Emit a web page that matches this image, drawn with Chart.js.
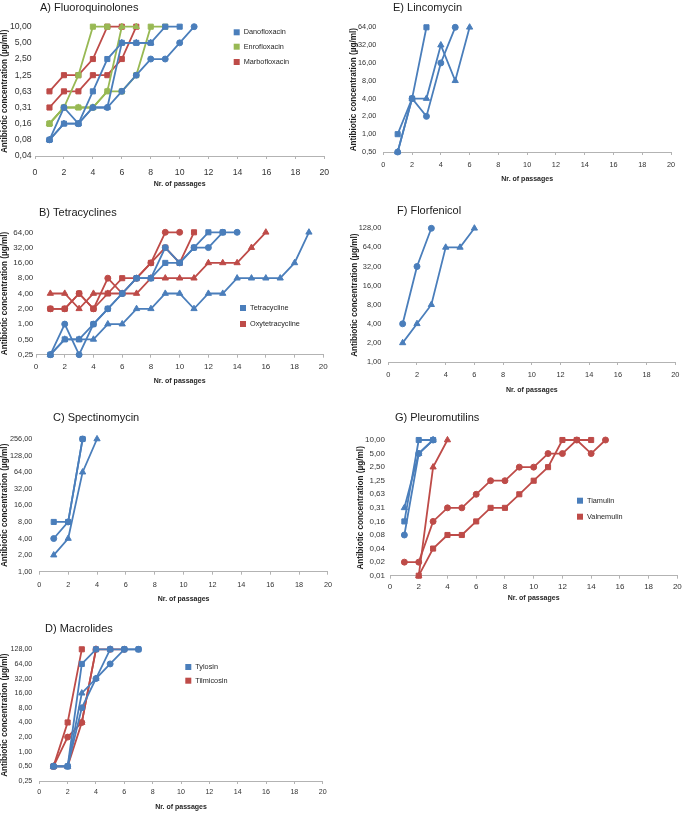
<!DOCTYPE html>
<html>
<head>
<meta charset="utf-8">
<script src="https://cdn.jsdelivr.net/npm/chart.js@4/dist/chart.umd.min.js"></script>
<style>
body { margin: 0; background: #fff; width: 685px; height: 813px; position: relative; overflow: hidden; }
canvas { position: absolute; }
</style>
</head>
<body>
<canvas id="chartA"></canvas>
<canvas id="chartB"></canvas>
<canvas id="chartC"></canvas>
<canvas id="chartD"></canvas>
<canvas id="chartE"></canvas>
<canvas id="chartF"></canvas>
<canvas id="chartG"></canvas>
<script>
// y levels (two-fold dilution steps) for each panel
const levelsA = [0.04, 0.08, 0.16, 0.31, 0.63, 1.25, 2.5, 5, 10];
const levelsB = [0.25, 0.5, 1, 2, 4, 8, 16, 32, 64];
const levelsC = [1, 2, 4, 8, 16, 32, 64, 128, 256];
const levelsD = [0.25, 0.5, 1, 2, 4, 8, 16, 32, 64, 128];
const levelsE = [0.5, 1, 2, 4, 8, 16, 32, 64];
const levelsF = [1, 2, 4, 8, 16, 32, 64, 128];
const levelsG = [0.01, 0.02, 0.04, 0.08, 0.16, 0.31, 0.63, 1.25, 2.5, 5, 10];

// concentrations per passage (passage 1, 2, 3 ...)
const danoSquare = [0.08, 0.16, 0.16, 0.63, 2.5, 5, 5, 5, 10, 10];
const danoCircle = [0.08, 0.31, 0.16, 0.31, 0.31, 0.63, 1.25, 2.5, 2.5, 5, 10];
const danoTriangle = [0.08, 0.16, 0.16, 0.31, 0.31, 5, 5, 5];
const enroSquare = [0.16, 0.31, 1.25, 10, 10];
const enroTriangle = [0.16, 0.31, 0.31, 0.31, 0.63, 10, 10];
const enroCircle = [0.16, 0.31, 0.31, 0.31, 0.63, 0.63, 1.25, 10, 10];
const marboSquare = [0.63, 1.25, 1.25, 2.5, 10, 10];
const marboCircle = [0.31, 0.63, 0.63, 1.25, 1.25, 2.5, 10];

const tetraSquare = [0.25, 0.5, 0.5, 1, 2, 4, 8, 8, 16, 16, 32, 64, 64];
const tetraCircle = [0.25, 1, 0.25, 1, 2, 4, 8, 8, 32, 16, 32, 32, 64, 64];
const tetraTriangle = [0.25, 0.5, 0.5, 0.5, 1, 1, 2, 2, 4, 4, 2, 4, 4, 8, 8, 8, 8, 16, 64];
const oxySquare = [2, 2, 4, 2, 4, 8, 8, 16, 32, 16, 64];
const oxyCircle = [2, 2, 4, 2, 8, 4, 8, 16, 64, 64];
const oxyTriangle = [4, 4, 2, 4, 4, 4, 4, 8, 8, 8, 8, 16, 16, 16, 32, 64];

const spectSquare = [8, 8, 256];
const spectCircle = [4, 8, 256];
const spectTriangle = [2, 4, 64, 256];

const tyloSquare = [0.5, 0.5, 64, 128, 128, 128, 128];
const tyloTriangle = [0.5, 0.5, 16, 32, 128];
const tyloCircle = [0.5, 0.5, 8, 32, 64, 128, 128];
const tilmiSquare = [0.5, 4, 128];
const tilmiCircle = [0.5, 2, 4, 128, 128, 128];
const tilmiTriangle = [0.5, 0.5, 4, 128];

const lincoSquare = [1, 4, 64];
const lincoCircle = [0.5, 4, 2, 16, 64];
const lincoTriangle = [0.5, 4, 4, 32, 8, 64];

const florCircle = [4, 32, 128];
const florTriangle = [2, 4, 8, 64, 64, 128];

const tiaSquare = [0.16, 10, 10];
const tiaCircle = [0.08, 5, 10];
const tiaTriangle = [0.31, 5, 10];
const valCircle = [0.02, 0.02, 0.16, 0.31, 0.31, 0.63, 1.25, 1.25, 2.5, 2.5, 5, 5, 10, 5, 10];
const valSquare = [null, 0.01, 0.04, 0.08, 0.08, 0.16, 0.31, 0.31, 0.63, 1.25, 2.5, 10, 10, 10];
const valTriangle = [null, 0.01, 2.5, 10];

const FONT = "'Liberation Sans', Arial, sans-serif";
const BLUE = "#4a7ebb";
const RED = "#be4b48";
const GREEN = "#98b954";

const fmt = (v) => v.toFixed(2).replace(".", ",");

// panel title and the small square legend
const panelText = {
    id: "panelText",
    afterDraw(chart, args, opts) {
        const ctx = chart.ctx;
        ctx.save();
        ctx.textBaseline = "middle";
        ctx.fillStyle = "#1a1a1a";
        ctx.font = `11px ${FONT}`;
        ctx.fillText(opts.title, opts.titleX, opts.titleY);
        ctx.font = `7.3px ${FONT}`;
        (opts.legend || []).forEach((item) => {
            ctx.fillStyle = item.color;
            ctx.fillRect(item.x - 3, item.y - 3, 6, 6);
            ctx.fillStyle = "#262626";
            ctx.fillText(item.text, item.x + 7, item.y);
        });
        ctx.restore();
    },
};

const makePanel = (id, p) => {
    const canvas = document.getElementById(id);
    const left = Math.round(p.canvas.left);
    const top = Math.round(p.canvas.top);
    canvas.width = Math.round(p.canvas.right) - left;
    canvas.height = Math.round(p.canvas.bottom) - top;
    canvas.style.left = left + "px";
    canvas.style.top = top + "px";

    const datasets = p.series.map((s) => ({
        data: s.values.flatMap((v, i) =>
            v === null ? [] : [{ x: i + 1, y: p.levels.indexOf(v) }]
        ),
        borderColor: s.color,
        backgroundColor: s.color,
        pointStyle: s.style,
        pointRadius: s.style === "circle" ? 3 : 3.6,
        pointBorderWidth: 1,
        borderWidth: 1.8,
        tension: 0,
        clip: false,
    }));

    new Chart(canvas, {
        type: "line",
        data: { datasets },
        plugins: [panelText],
        options: {
            responsive: false,
            animation: false,
            devicePixelRatio: 1,
            layout: {
                padding: {
                    top: p.plot.top - top,
                    right: Math.round(p.canvas.right) - p.plot.right,
                    left: 0,
                    bottom: 0,
                },
            },
            plugins: {
                legend: { display: false },
                tooltip: { enabled: false },
                panelText: {
                    title: p.title,
                    titleX: p.titleX - left,
                    titleY: p.titleY - top,
                    legend: (p.legend || []).map((l) => ({ ...l, x: l.x - left, y: l.y - top })),
                },
            },
            scales: {
                x: {
                    type: "linear",
                    min: 0,
                    max: 20,
                    ticks: { stepSize: 2, padding: p.xPad, color: "#333", font: { family: FONT, size: p.tickSize } },
                    grid: { drawOnChartArea: false, drawTicks: true, tickLength: 3, color: "#b3b3b3" },
                    border: { display: true, color: "#b3b3b3" },
                    title: {
                        display: true,
                        text: "Nr. of passages",
                        padding: 0,
                        color: "#1f1f1f",
                        font: { family: FONT, size: 7, weight: "bold" },
                    },
                    afterFit: (scale) => {
                        scale.height = Math.round(p.canvas.bottom) - p.plot.bottom;
                    },
                },
                y: {
                    type: "linear",
                    min: 0,
                    max: p.levels.length - 1,
                    ticks: {
                        stepSize: 1,
                        autoSkip: false,
                        padding: p.yPad,
                        color: "#333",
                        font: { family: FONT, size: p.tickSize },
                        callback: (v) => (p.levels[v] === undefined ? "" : fmt(p.levels[v])),
                    },
                    grid: { display: false, drawTicks: false },
                    border: { display: false },
                    title: {
                        display: true,
                        text: "Antibiotic concentration (µg/ml)",
                        padding: 0,
                        color: "#1f1f1f",
                        font: { family: FONT, size: 8.2, weight: "bold" },
                    },
                    afterFit: (scale) => {
                        scale.width = p.plot.left - left;
                    },
                },
            },
        },
    });
};

makePanel("chartA", {
    canvas: { left: 0, top: 0, right: 338, bottom: 188 },
    plot: { left: 35, top: 26.7, right: 325.5, bottom: 156 },
    title: "A) Fluoroquinolones", titleX: 40, titleY: 8,
    tickSize: 8.7, xPad: 8.8, yPad: 3.3,
    levels: levelsA,
    series: [
        { values: danoSquare, color: BLUE, style: "rect" },
        { values: danoTriangle, color: BLUE, style: "triangle" },
        { values: danoCircle, color: BLUE, style: "circle" },
        { values: enroSquare, color: GREEN, style: "rect" },
        { values: enroTriangle, color: GREEN, style: "triangle" },
        { values: enroCircle, color: GREEN, style: "rect" },
        { values: marboSquare, color: RED, style: "rect" },
        { values: marboCircle, color: RED, style: "rect" },
    ],
    legend: [
        { text: "Danofloxacin", color: BLUE, x: 236.7, y: 32.3 },
        { text: "Enrofloxacin", color: GREEN, x: 236.7, y: 46.7 },
        { text: "Marbofloxacin", color: RED, x: 236.7, y: 62 },
    ],
});

makePanel("chartB", {
    canvas: { left: 0, top: 200, right: 336, bottom: 385 },
    plot: { left: 36, top: 232.3, right: 323.3, bottom: 354.7 },
    title: "B) Tetracyclines", titleX: 39, titleY: 213,
    tickSize: 8, xPad: 4.2, yPad: 2.7,
    levels: levelsB,
    series: [
        { values: tetraSquare, color: BLUE, style: "rect" },
        { values: tetraCircle, color: BLUE, style: "circle" },
        { values: tetraTriangle, color: BLUE, style: "triangle" },
        { values: oxySquare, color: RED, style: "rect" },
        { values: oxyCircle, color: RED, style: "circle" },
        { values: oxyTriangle, color: RED, style: "triangle" },
    ],
    legend: [
        { text: "Tetracycline", color: BLUE, x: 243, y: 308 },
        { text: "Oxytetracycline", color: RED, x: 243, y: 324 },
    ],
});

makePanel("chartC", {
    canvas: { left: 0, top: 405, right: 338, bottom: 603 },
    plot: { left: 39.3, top: 439, right: 328.3, bottom: 571.7 },
    title: "C) Spectinomycin", titleX: 53, titleY: 418,
    tickSize: 7.3, xPad: 6, yPad: 7,
    levels: levelsC,
    series: [
        { values: spectSquare, color: BLUE, style: "rect" },
        { values: spectCircle, color: BLUE, style: "circle" },
        { values: spectTriangle, color: BLUE, style: "triangle" },
    ],
});

makePanel("chartD", {
    canvas: { left: 0, top: 615, right: 335, bottom: 811 },
    plot: { left: 39.3, top: 649.3, right: 322.7, bottom: 781 },
    title: "D) Macrolides", titleX: 45, titleY: 629,
    tickSize: 7.1, xPad: 3.5, yPad: 7,
    levels: levelsD,
    series: [
        { values: tyloSquare, color: BLUE, style: "rect" },
        { values: tyloTriangle, color: BLUE, style: "triangle" },
        { values: tyloCircle, color: BLUE, style: "circle" },
        { values: tilmiSquare, color: RED, style: "rect" },
        { values: tilmiCircle, color: RED, style: "circle" },
        { values: tilmiTriangle, color: RED, style: "triangle" },
    ],
    legend: [
        { text: "Tylosin", color: BLUE, x: 188.3, y: 667 },
        { text: "Tilmicosin", color: RED, x: 188.3, y: 680.7 },
    ],
});

makePanel("chartE", {
    canvas: { left: 349, top: 0, right: 683, bottom: 183 },
    plot: { left: 383.3, top: 27.3, right: 671, bottom: 152 },
    title: "E) Lincomycin", titleX: 393, titleY: 8,
    tickSize: 7.3, xPad: 5.7, yPad: 7,
    levels: levelsE,
    series: [
        { values: lincoSquare, color: BLUE, style: "rect" },
        { values: lincoCircle, color: BLUE, style: "circle" },
        { values: lincoTriangle, color: BLUE, style: "triangle" },
    ],
});

makePanel("chartF", {
    canvas: { left: 350, top: 198, right: 685, bottom: 394 },
    plot: { left: 388.3, top: 228.3, right: 677, bottom: 362 },
    title: "F) Florfenicol", titleX: 397, titleY: 211,
    tickSize: 7.4, xPad: 5.6, yPad: 7,
    levels: levelsF,
    series: [
        { values: florCircle, color: BLUE, style: "circle" },
        { values: florTriangle, color: BLUE, style: "triangle" },
    ],
});

makePanel("chartG", {
    canvas: { left: 356, top: 405, right: 685, bottom: 602 },
    plot: { left: 390, top: 440, right: 680, bottom: 575.7 },
    title: "G) Pleuromutilins", titleX: 395, titleY: 418,
    tickSize: 8, xPad: 3.2, yPad: 5,
    levels: levelsG,
    series: [
        { values: tiaSquare, color: BLUE, style: "rect" },
        { values: tiaCircle, color: BLUE, style: "circle" },
        { values: tiaTriangle, color: BLUE, style: "triangle" },
        { values: valCircle, color: RED, style: "circle" },
        { values: valSquare, color: RED, style: "rect" },
        { values: valTriangle, color: RED, style: "triangle" },
    ],
    legend: [
        { text: "Tiamulin", color: BLUE, x: 580, y: 500.7 },
        { text: "Valnemulin", color: RED, x: 580, y: 516.7 },
    ],
});
</script>
</body>
</html>
